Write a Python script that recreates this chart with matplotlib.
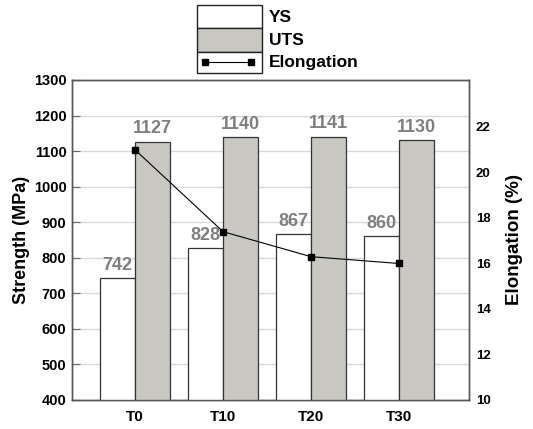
import matplotlib
matplotlib.use("Agg")
import matplotlib.pyplot as plt
import numpy as np
from matplotlib.patches import Rectangle
from matplotlib.lines import Line2D

categories = ["T0", "T10", "T20", "T30"]
ys = [742, 828, 867, 860]
uts = [1127, 1140, 1141, 1130]
elong = [21.0, 17.4, 16.3, 16.0]
left_ticks = [400, 500, 600, 700, 800, 900, 1000, 1100, 1200, 1300]
right_ticks = [10, 12, 14, 16, 18, 20, 22]

plt.rcParams['font.family'] = ['Liberation Sans', 'DejaVu Sans']
plt.rcParams['font.weight'] = 'bold'

W, H = 533, 429
fig = plt.figure(figsize=(W / 100, H / 100), dpi=100)
ax = fig.add_axes([72 / W, 1 - 400 / H, (469 - 72) / W, (400 - 80) / H])

x = np.arange(len(categories))
bw = 0.4
uts_color = '#c9c7c1'
edge = '#333333'
ax.bar(x - bw / 2, ys, bw, color='white', edgecolor=edge, linewidth=0.9, zorder=3)
ax.bar(x + bw / 2, uts, bw, color=uts_color, edgecolor=edge, linewidth=0.9, zorder=3)

lab_color = '#7f7f7f'
for xi, v in zip(x, ys):
    ax.text(xi - bw / 2, v + 12, str(v), ha='center', va='bottom', fontsize=13,
            color=lab_color, fontweight='bold', zorder=5)
for xi, v in zip(x, uts):
    ax.text(xi + bw / 2, v + 12, str(v), ha='center', va='bottom', fontsize=13,
            color=lab_color, fontweight='bold', zorder=5)

ax.set_xlim(-0.716, 3.795)
ax.set_ylim(400, 1300)
ax.set_yticks(left_ticks)
ax.set_xticks(x)
ax.set_xticklabels(categories, fontsize=11, fontweight='bold')
ax.tick_params(axis='x', length=0, pad=7)
ax.tick_params(axis='y', direction='in', length=6, color='#666666', labelsize=10.5, pad=4)
for t in ax.get_yticklabels():
    t.set_fontweight('bold')
ax.grid(axis='y', color='#d8d8d8', linewidth=1.0, zorder=0)
ax.set_axisbelow(True)
ax.set_ylabel('Strength (MPa)', fontsize=13, fontweight='bold', labelpad=3)
for s in ax.spines.values():
    s.set_color('#555555')
    s.set_linewidth(1.0)

ax2 = ax.twinx()
ax2.plot(x, elong, color='black', linewidth=0.8, marker='s', markersize=5,
         markerfacecolor='black', markeredgecolor='black', zorder=6)
ax2.set_ylim(10, 10 + 320 / 22.75)
ax2.set_yticks(right_ticks)
ax2.tick_params(axis='y', length=0, labelsize=9.5, pad=5)
for t in ax2.get_yticklabels():
    t.set_fontweight('bold')
ax2.set_ylabel('Elongation (%)', fontsize=13.5, fontweight='bold', labelpad=11)
for s in ax2.spines.values():
    s.set_color('#555555')
    s.set_linewidth(1.0)

# Legend drawn in figure pixel coordinates
def fx(px):
    return px / W

def fy(py):
    return 1 - py / H

rows = [(5, 28), (28, 52), (52, 73)]
fills = ['white', uts_color, 'white']
for (t, b), fc in zip(rows, fills):
    fig.add_artist(Rectangle((fx(197), fy(b)), fx(262) - fx(197), fy(t) - fy(b),
                             transform=fig.transFigure, facecolor=fc,
                             edgecolor='#222222', linewidth=1.0))
fig.add_artist(Line2D([fx(205), fx(251)], [fy(62), fy(62)], transform=fig.transFigure,
                      color='black', linewidth=0.8, marker='s', markersize=5))
labels = ['YS', 'UTS', 'Elongation']
for (t, b), lab in zip(rows, labels):
    fig.text(fx(269), fy((t + b) / 2 + 0.5), lab, ha='left', va='center',
             fontsize=12.5, fontweight='bold', color='black')

fig.savefig('out.png', dpi=100)
